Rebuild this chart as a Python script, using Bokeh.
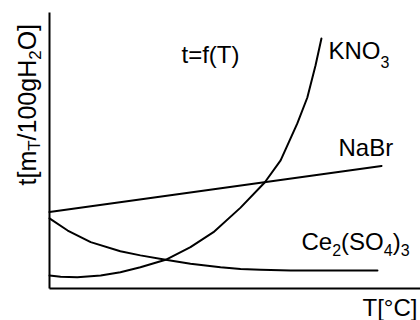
import math
from bokeh.plotting import figure
from bokeh.models import Range1d, Label, FixedTicker
from bokeh.embed import file_html
from bokeh.resources import INLINE

# ---- data (arbitrary units) ----
T_kno3 = [0, 3.0, 7.5, 13.8, 19.1, 24.5, 31.3, 38.0, 44.2, 51.5, 58.0, 62.3, 66.8, 69.5, 71.7, 73.3]
s_kno3 = [4.7, 4.3, 4.1, 4.7, 5.9, 7.7, 10.4, 15.0, 20.4, 29.3, 38.4, 46.4, 59.8, 69.2, 80.8, 90.6]

T_nabr = [0, 89.5]
s_nabr = [27.7, 44.4]

T_ce = [0, 4.9, 11.1, 19.1, 24.5, 31.3, 38.0, 46.1, 51.5, 56.9, 65.0, 75.7, 88.4]
s_ce = [25.4, 21.0, 16.8, 13.5, 12.0, 10.4, 9.0, 7.7, 7.1, 6.8, 6.5, 6.5, 6.5]

# ---- layout (page pixels) ----
W, H = 420, 320
AX_X, AX_Y, AX_TOP = 49, 288, 12        # axis positions on the page
XS = (W - AX_X) / 100.0                 # px per data unit
YS = (AX_Y - AX_TOP) / 100.0
FONT = "Liberation Sans"
FS, SFS = 24, 16
BASE_K = 0.35                           # label anchor -> baseline correction (em)

p = figure(width=W, height=H, output_backend="svg", toolbar_location=None,
           x_range=Range1d(-AX_X / XS, (W - AX_X) / XS),
           y_range=Range1d(-(H - AX_Y) / YS, AX_Y / YS),
           min_border=0)
p.background_fill_color = "white"
p.border_fill_color = "white"
p.outline_line_color = None
p.grid.visible = False
for ax in (p.xaxis, p.yaxis):
    ax.ticker = FixedTicker(ticks=[])
    ax.major_tick_line_color = None
    ax.minor_tick_line_color = None
    ax.major_tick_out = 0
    ax.major_tick_in = 0
    ax.minor_tick_out = 0
    ax.minor_tick_in = 0
    ax.major_label_text_font_size = "0px"
    ax.major_label_standoff = 0
    ax.axis_label_standoff = 0
    ax.axis_line_width = 2
    ax.axis_line_color = "black"
    ax.fixed_location = 0
    ax.bounds = (0, 100)

for xs, ys in ((T_kno3, s_kno3), (T_nabr, s_nabr), (T_ce, s_ce)):
    p.line(xs, ys, line_color="black", line_width=2, line_join="round", line_cap="round")

def dx(px):
    return (px - AX_X) / XS
def dy(py):
    return (AX_Y - py) / YS

ADV = {"t": 278, "[": 278, "m": 833, "/": 278, "1": 556, "0": 556, "g": 556, "H": 722,
       "O": 778, "]": 278, "T": 611, "2": 556, "K": 667, "N": 722, "a": 556, "B": 667,
       "r": 333, "C": 722, "e": 556, "(": 333, "S": 667, ")": 333, "3": 556, "4": 556,
       "°": 400, "=": 584, "f": 278}
def width(s, size):
    return sum(ADV.get(c, 556) for c in s) * size / 1000.0

def add(text, px, py, size=FS, angle=0.0):
    # px, py: wanted baseline-left position on the page
    if angle:
        px -= BASE_K * size
    else:
        py -= BASE_K * size
    p.add_layout(Label(x=dx(px), y=dy(py), text=text, text_font=FONT,
                       text_font_size=f"{size}px", text_color="black",
                       text_align="left", text_baseline="alphabetic", angle=angle))

def run(parts, px, py, sub_off):
    x = px
    for txt, is_sub in parts:
        size = SFS if is_sub else FS
        add(txt, x, py + (sub_off if is_sub else 0), size)
        x += width(txt, size)

add("t=f(T)", 181, 62)
run([("KNO", False), ("3", True)], 328, 58, 9)
add("NaBr", 338, 155)
run([("Ce", False), ("2", True), ("(SO", False), ("4", True), (")", False), ("3", True)], 301, 249, 6)
add("T[°C]", 362, 315)

# rotated y label, reading bottom to top
YFS, YSFS = 25, 17
ylab = [("t[m", False), ("T", True), ("/100gH", False), ("2", True), ("O]", False)]
yy = 185
for txt, is_sub in ylab:
    size = YSFS if is_sub else YFS
    add(txt, 35 + (5 if is_sub else 0), yy, size, angle=math.pi / 2)
    yy -= width(txt, size)

open("out.html", "w").write(file_html(p, INLINE))
